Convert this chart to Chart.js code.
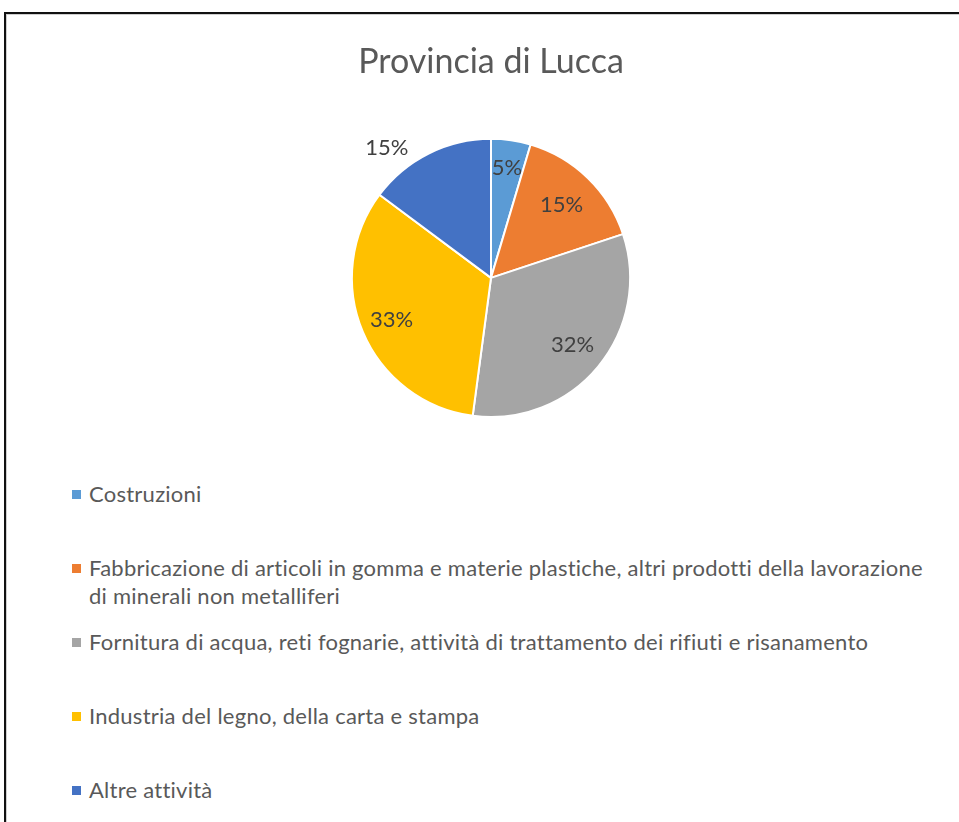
<!DOCTYPE html>
<html>
<head>
<meta charset="utf-8">
<script src="https://cdn.jsdelivr.net/npm/chart.js@4.4.1/dist/chart.umd.min.js"></script>
<style>
  html, body { margin: 0; padding: 0; background: #fff; width: 959px; height: 822px; overflow: hidden; }
  #frame { position: absolute; left: 4px; top: 12px; width: 1000px; height: 900px;
           border-left: 2px solid #111; border-top: 2px solid #111; box-shadow: inset 1px 1px 0 #cfcfcf; }
  #myChart { position: absolute; left: 0; top: 0; }
  #legend { position: absolute; left: 72px; top: 480px; width: 860px; margin: 0; padding: 0; list-style: none;
            font-family: Lato, sans-serif; font-size: 22px; letter-spacing: 0.25px; line-height: 28px; color: #595959; }
  #legend li { display: flex; align-items: flex-start; height: 74px; }
  #legend .box { flex: none; width: 9px; height: 9px; margin: 10px 8px 0 0; }
</style>
</head>
<body>
<div id="frame"></div>
<canvas id="myChart" width="959" height="460"></canvas>
<ul id="legend"></ul>
<script>
let categories = [
  "Costruzioni",
  "Fabbricazione di articoli in gomma e materie plastiche, altri prodotti della lavorazione di minerali non metalliferi",
  "Fornitura di acqua, reti fognarie, attività di trattamento dei rifiuti e risanamento",
  "Industria del legno, della carta e stampa",
  "Altre attività"
];
let shares = [4.6, 15.3, 32.2, 33.1, 14.8];
let colors = ['#5B9BD5', '#ED7D31', '#A5A5A5', '#FFC000', '#4472C4'];

// percent labels, placed like Excel's "best fit"
let pctLabels = {
  id: 'pctLabels',
  afterDatasetsDraw(chart, args, opts) {
    let ctx = chart.ctx;
    let meta = chart.getDatasetMeta(0);
    let total = shares.reduce((a, b) => a + b, 0);
    ctx.save();
    ctx.font = opts.font;
    ctx.fillStyle = opts.color;
    ctx.textAlign = 'center';
    ctx.textBaseline = 'middle';
    meta.data.forEach((arc, i) => {
      let p = opts.place[i];
      let mid = (arc.startAngle + arc.endAngle) / 2 + (p.a || 0) * Math.PI / 180;
      let r = arc.outerRadius * p.r;
      let txt = Math.round(shares[i] / total * 100) + '%';
      ctx.fillText(txt, arc.x + Math.cos(mid) * r, arc.y + Math.sin(mid) * r);
    });
    ctx.restore();
  }
};

var ctx = document.getElementById("myChart").getContext("2d");
var myPie = new Chart(ctx, {
  type: "pie",
  data: {
    labels: categories,
    datasets: [{
      data: shares,
      backgroundColor: colors,
      borderColor: '#fff',
      borderWidth: 2
    }]
  },
  options: {
    responsive: false,
    animation: false,
    layout: { padding: { left: 223, right: 200, top: 0, bottom: 42 } },
    plugins: {
      legend: { display: false },
      tooltip: { enabled: false },
      title: {
        display: true,
        text: "Provincia di Lucca",
        color: '#595959',
        font: { family: 'Lato', size: 34, weight: 'normal' },
        padding: { top: 42, bottom: 55 }
      },
      pctLabels: {
        font: '22px Lato',
        color: '#404040',
        place: [{ r: 0.80 }, { r: 0.73 }, { r: 0.76 }, { r: 0.775 }, { r: 1.2, a: -12 }]
      }
    }
  },
  plugins: [pctLabels]
});

// legend built from the chart's own legend items
let items = myPie.options.plugins.legend.labels.generateLabels(myPie);
items.forEach(it => {
  $li = document.createElement('li');
  $li.innerHTML = '<span class="box" style="background:' + it.fillStyle + '"></span><span>' + it.text + '</span>';
  document.getElementById('legend').appendChild($li);
});
</script>
</body>
</html>
